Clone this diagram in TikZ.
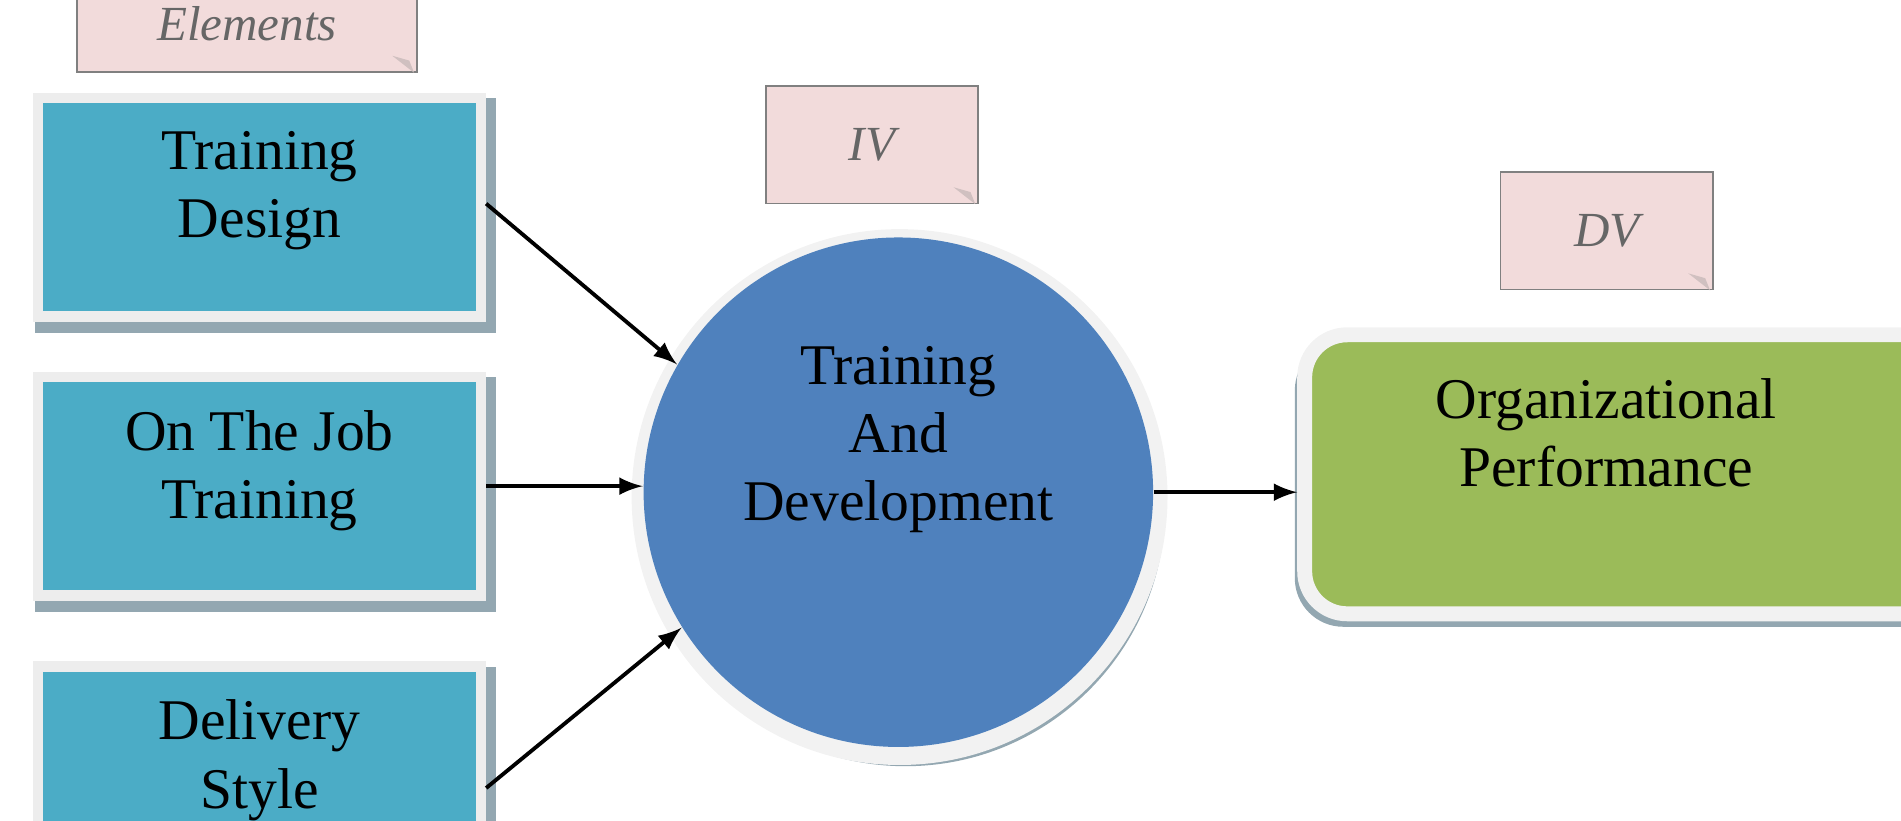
\documentclass[tikz,border=0pt]{standalone}
\usepackage{fontspec}
\setmainfont{Liberation Serif}
\usetikzlibrary{calc,positioning}
\definecolor{teal1}{HTML}{4BACC6}
\definecolor{blue1}{HTML}{4F81BD}
\definecolor{green1}{HTML}{9BBB59}
\definecolor{note1}{HTML}{F2DBDB}
\definecolor{shade1}{HTML}{93A7B1}
\tikzstyle{elem} = [rectangle, fill=teal1, draw=white!93!black, line width=2.5pt, minimum width=3.65cm, minimum height=1.78cm, text width=3.4cm, align=center, font=\fontsize{13.5}{16}\selectfont]
\tikzstyle{note} = [rectangle, fill=note1, draw=gray, minimum width=1.75cm, minimum height=0.97cm, font=\fontsize{11.5}{14}\selectfont\itshape, text=black!60]
\tikzstyle{arr} = [->, >=latex, line width=0.9pt]
\begin{document}
\begin{tikzpicture}[x=0.01cm,y=-0.01cm]
\useasboundingbox (0,0) rectangle (1568,677);
% notes
\node[note, minimum width=2.8cm, minimum height=0.8cm, anchor=south west] (elnote) at (63,60) {Elements};
\node[note, anchor=north west] (ivnote) at (631,70) {IV};
\node[note, anchor=north west] (dvnote) at (1237,141) {DV};
\foreach \n in {elnote,ivnote,dvnote}
  \fill[note1!70!gray] ($(\n.south east)+(-3,0)$) -- ++(-18,-14) -- ++(14,4) -- cycle;
% elements
\foreach \y/\nm/\t in {171/design/{Training\\Design}, 401/job/{On The Job\\Training}, 640/style/{Delivery\\Style}}{
  \fill[shade1] (29,\y-90) rectangle (409,\y+104);
  \node[elem, minimum height=1.8cm] (\nm) at (214,\y) {};
  \node[align=center, font=\fontsize{13.5}{16}\selectfont, anchor=north] at (214,\y-75) {\t};
}
% center
\fill[shade1] (747,418) circle (214);
\fill[white!95!black] (742,410) circle (221);
\node[circle, fill=blue1, minimum size=4.2cm, inner sep=0pt] (td) at (741,406) {};
\node[align=center, font=\fontsize{13.5}{16}\selectfont, anchor=north] (tdlabel) at (741,273) {Training\\And\\Development};
% outcome
\fill[shade1, rounded corners=0.4cm] (1068,282) rectangle (1930,517);
\node[rectangle, rounded corners=0.35cm, fill=green1, draw=white!95!black, line width=3.5pt, minimum width=8.5cm, minimum height=2.3cm, anchor=north west] (op) at (1070,270) {};
\node[align=center, font=\fontsize{13.5}{16}\selectfont, anchor=north] (oplabel) at (1325,300) {Organizational\\Performance};
% arrows
\draw[arr] (design.east) ++(0,-3) coordinate (d0) (d0) -- (td.150);
\draw[arr] (job.east) -- (td.west |- job.east);
\draw[arr] (style.east) ++(0,10) coordinate (s0) (s0) -- (td.212);
\draw[arr] (td.east) -- (op.west |- td.east);
\end{tikzpicture}
\end{document}
